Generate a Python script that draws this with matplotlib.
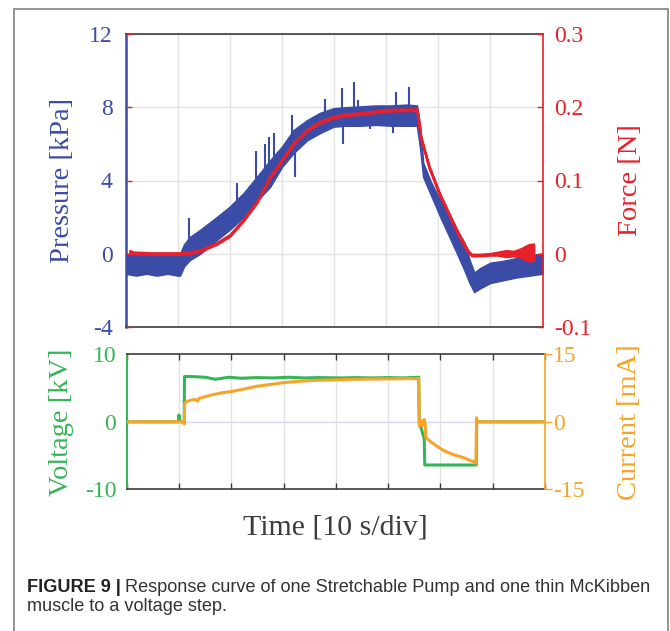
import numpy as np
import matplotlib
matplotlib.use("Agg")
import matplotlib.pyplot as plt
from matplotlib.patches import Rectangle

plt.rcParams['axes.unicode_minus'] = False

# time axis, 10 s per division
t_p = [0, 2, 4, 6, 8, 10, 10.4, 11.2, 12.3, 14.3, 17.5, 19.9, 22.6, 25.2, 27.7,
       30, 32.2, 34.8, 37.3, 39.9, 42, 45, 48, 51, 54, 55.9, 56.5, 57.1, 58.6,
       60.4, 62, 63.6, 65, 66, 66.9, 68, 70, 72.5, 75, 77.5, 80]
# pressure trace, upper and lower edge of the noisy band [kPa]
p_hi = [0.0, -0.1, 0.0, -0.1, 0.0, -0.1, -0.05, 0.5, 0.9, 1.3, 2.0, 2.55, 3.3, 4.2, 5.1,
        5.85, 6.75, 7.3, 7.7, 7.95, 8.0, 8.05, 8.1, 8.1, 8.15, 8.1, 7.0, 4.95, 3.9,
        2.9, 2.0, 1.3, 0.6, -0.35, -1.05, -0.8, -0.5, -0.4, -0.25, -0.1, 0.0]
p_lo = [-1.1, -1.2, -1.1, -1.2, -1.1, -1.2, -1.2, -0.7, -0.35, 0.0, 0.75, 1.3, 2.0, 2.9, 3.65,
        4.75, 5.5, 6.2, 6.6, 6.95, 7.0, 7.0, 7.05, 7.0, 7.0, 7.0, 5.8, 4.2, 3.2,
        2.0, 1.0, 0.0, -0.9, -1.6, -2.1, -1.9, -1.6, -1.45, -1.3, -1.2, -1.1]
# pressure spikes: time, base, tip [kPa]
spike_t = [12.1, 21.4, 25.1, 26.8, 27.6, 28.5, 31.9, 32.5, 38.3, 41.6, 41.7, 43.9, 44.6, 46.9, 51.3, 51.9, 54.3]
spike_base = [0.3, 2.6, 3.6, 4.3, 4.6, 5.0, 6.3, 6.3, 7.6, 7.7, 7.4, 7.7, 7.7, 7.4, 7.4, 7.8, 7.8]
spike_tip = [1.95, 3.85, 5.6, 6.0, 6.4, 6.6, 7.6, 4.2, 8.45, 9.05, 6.0, 9.4, 8.4, 6.8, 6.6, 8.85, 9.1]

# force [N]
f_t = [0.8, 1.5, 5, 10, 12, 14.3, 17.5, 20, 22.6, 25.2, 27.7, 30, 32.2, 34.8, 37.3,
       39.9, 42.3, 45.5, 50, 55.9, 56.6, 58.2, 60.2, 62.1, 64.1, 65.7, 66.4, 68, 70, 71.5,
       73, 74.5, 76, 77.3, 78.3]
f_mid = [0.002, 0.001, 0.0, 0.0, 0.001, 0.004, 0.014, 0.025, 0.046, 0.071, 0.105, 0.128, 0.151, 0.169, 0.18,
         0.187, 0.19, 0.192, 0.196, 0.197, 0.16, 0.119, 0.082, 0.053, 0.023, 0.003, -0.002, -0.002, -0.001, 0.0,
         0.0, 0.0, 0.001, 0.001, 0.002]
f_spread = [0.002, 0.001, 0.001, 0.001, 0.001, 0.001, 0.001, 0.001, 0.001, 0.001, 0.001, 0.001, 0.001, 0.001, 0.001,
            0.001, 0.001, 0.001, 0.001, 0.001, 0.001, 0.001, 0.001, 0.001, 0.001, 0.001, 0.001, 0.001, 0.001, 0.002,
            0.004, 0.003, 0.006, 0.011, 0.011]

# voltage [kV]
v_t = [0, 9.9, 10.0, 10.15, 10.3, 11.0, 11.05, 12.5, 15, 17, 19.5, 22, 25, 28, 31,
       34, 37, 41, 44, 47, 50, 53, 55.85, 55.95, 56.9, 57.0, 66.85, 66.95, 80]
v_kv = [0, 0, 1.0, 0.2, 0, 0, 6.7, 6.7, 6.6, 6.3, 6.6, 6.45, 6.55, 6.5, 6.6,
        6.5, 6.55, 6.5, 6.55, 6.5, 6.55, 6.5, 6.6, 0.0, -2.5, -6.4, -6.4, 0, 0]

# current [mA]
c_t = [0, 10.9, 11.0, 11.1, 11.3, 12, 13, 13.6, 13.8, 14.5, 16, 18, 20.1, 22.5, 24.9,
       27.5, 30, 33, 36, 39.5, 43, 47, 51, 55.85, 55.95, 56.3, 56.6, 56.9, 57.1, 57.2,
       58, 59.3, 60.5, 61.8, 63, 64.4, 65.5, 66.7, 66.8, 66.9, 67.0, 80]
c_ma = [0, 0, -0.5, 4.0, 4.4, 4.7, 5.0, 4.6, 5.2, 5.4, 5.9, 6.4, 6.75, 7.3, 7.9,
        8.3, 8.7, 9.0, 9.2, 9.3, 9.45, 9.5, 9.55, 9.6, -1.0, 0.3, -0.8, 0.5, -0.5, -3.5,
        -4.3, -5.4, -6.3, -7.0, -7.5, -7.95, -8.5, -9.0, -9.2, 0.9, 0, 0]

BLUE = '#3a4ca6'
RED = '#e8202a'
GREEN = '#35b558'
ORANGE = '#f6a52a'
DARK = '#3c3c3c'
GRID = '#e2e2e2'
SERIF = 'Liberation Serif'

W, H = 670, 631
fig = plt.figure(figsize=(W / 100, H / 100), dpi=100)


def box(x0, y0, x1, y1):
    return [x0 / W, 1 - y1 / H, (x1 - x0) / W, (y1 - y0) / H]


# ---- top: pressure / force ----
ax1 = fig.add_axes(box(125.7, 34.3, 542.5, 326.7))
ax1.fill_between(t_p, p_lo, p_hi, color=BLUE, lw=1.2, zorder=2)
ax1.vlines(spike_t, spike_base, spike_tip, color=BLUE, lw=1.5, zorder=2)
ax1.set_xlim(0, 80)
ax1.set_ylim(-4, 12)
ax1.set_xticks(np.arange(0, 81, 10))
ax1.set_yticks([-4, 0, 4, 8, 12])
ax1.set_yticklabels(['-4', '0', '4', '8', '12'])
ax1.grid(True, color=GRID, lw=1.0, zorder=0)
ax1.set_axisbelow(True)
ax1.tick_params(axis='x', length=0, labelbottom=False)
ax1.tick_params(axis='y', length=0, pad=9.5, labelsize=17, labelcolor=BLUE)
for lab in ax1.get_yticklabels():
    lab.set_family(SERIF)
ax1.set_ylabel('Pressure [kPa]', fontsize=20.5, family=SERIF, color=BLUE, labelpad=10)
ax1.spines['left'].set_color(BLUE)
ax1.spines['left'].set_linewidth(1.8)
ax1.spines['right'].set_visible(False)
for s in ('top', 'bottom'):
    ax1.spines[s].set_color(DARK)
    ax1.spines[s].set_linewidth(1.2)

ax2 = ax1.twinx()
f_mid_a = np.array(f_mid)
f_spread_a = np.array(f_spread)
ax2.fill_between(f_t, f_mid_a - f_spread_a, f_mid_a + f_spread_a, color=RED, lw=1.8, zorder=3)
ax2.set_ylim(-0.1, 0.3)
ax2.set_yticks([-0.1, 0, 0.1, 0.2, 0.3])
ax2.set_yticklabels(['-0.1', '0', '0.1', '0.2', '0.3'])
ax2.tick_params(axis='y', direction='in', left=True, right=True, length=4, width=1,
                color=RED, labelcolor=RED, labelsize=17, pad=8.5)
for lab in ax2.get_yticklabels():
    lab.set_family(SERIF)
ax2.set_ylabel('Force [N]', fontsize=20.5, family=SERIF, color=RED, labelpad=19)
ax2.spines['right'].set_color(RED)
ax2.spines['right'].set_linewidth(1.2)
for s in ('left', 'top', 'bottom'):
    ax2.spines[s].set_visible(False)

# ---- bottom: voltage / current ----
ax3 = fig.add_axes(box(126.7, 354.3, 545, 489.3))
ax3.plot(v_t, v_kv, color=GREEN, lw=2.2, zorder=3)
ax3.axhline(0, color='#d6d6f3', lw=1.0, zorder=1)
ax3.set_xlim(0, 80)
ax3.set_ylim(-10, 10)
ax3.set_xticks(np.arange(0, 81, 10))
ax3.set_yticks([-10, 0, 10])
ax3.set_yticklabels(['-10', '0', '10'])
ax3.grid(True, axis='x', color=GRID, lw=1.0, zorder=0)
ax3.set_axisbelow(True)
ax3.tick_params(axis='x', direction='in', top=True, bottom=True, length=4, width=1,
                color=DARK, labelbottom=False)
ax3.tick_params(axis='y', length=0, pad=7.5, labelsize=17, labelcolor=GREEN)
for lab in ax3.get_yticklabels():
    lab.set_family(SERIF)
ax3.set_ylabel('Voltage [kV]', fontsize=20.5, family=SERIF, color=GREEN, labelpad=8)
ax3.set_xlabel('Time [10 s/div]', fontsize=21.5, family=SERIF, color=DARK, labelpad=18)
ax3.spines['left'].set_color(GREEN)
ax3.spines['left'].set_linewidth(1.4)
ax3.spines['right'].set_visible(False)
for s in ('top', 'bottom'):
    ax3.spines[s].set_color(DARK)
    ax3.spines[s].set_linewidth(1.2)

ax4 = ax3.twinx()
ax4.plot(c_t, c_ma, color=ORANGE, lw=2.2, zorder=4)
ax4.set_ylim(-15, 15)
ax4.set_yticks([-15, 0, 15])
ax4.set_yticklabels(['-15', '0', '15'])
ax4.tick_params(axis='y', direction='out', length=5, width=1, color=ORANGE,
                labelcolor=ORANGE, labelsize=17, pad=1)
for lab in ax4.get_yticklabels():
    lab.set_family(SERIF)
ax4.set_ylabel('Current [mA]', fontsize=20.5, family=SERIF, color=ORANGE, labelpad=23)
ax4.spines['right'].set_color(ORANGE)
ax4.spines['right'].set_linewidth(1.2)
for s in ('left', 'top', 'bottom'):
    ax4.spines[s].set_visible(False)

# ---- frame and caption ----
fig.add_artist(Rectangle((14 / W, -0.05), (667.5 - 14) / W, 1.05 - 8.5 / H,
                         transform=fig.transFigure, fill=False, ec='#8c8c8c', lw=1.3))

cap_size = 13.1
x0 = 26.7 / W
y1 = 1 - 592 / H
y2 = 1 - 611 / H
bold = fig.text(x0, y1, 'FIGURE 9 |', fontsize=cap_size, weight='bold',
                family='Liberation Sans', color='#222222', va='baseline')
renderer = fig.canvas.get_renderer()
bb = bold.get_window_extent(renderer)
fig.text(bb.x1 / W + 4 / W, y1, 'Response curve of one Stretchable Pump and one thin McKibben',
         fontsize=cap_size, family='Liberation Sans', color='#333333', va='baseline')
fig.text(x0, y2, 'muscle to a voltage step.', fontsize=cap_size,
         family='Liberation Sans', color='#333333', va='baseline')

fig.savefig('out.png', dpi=100)
